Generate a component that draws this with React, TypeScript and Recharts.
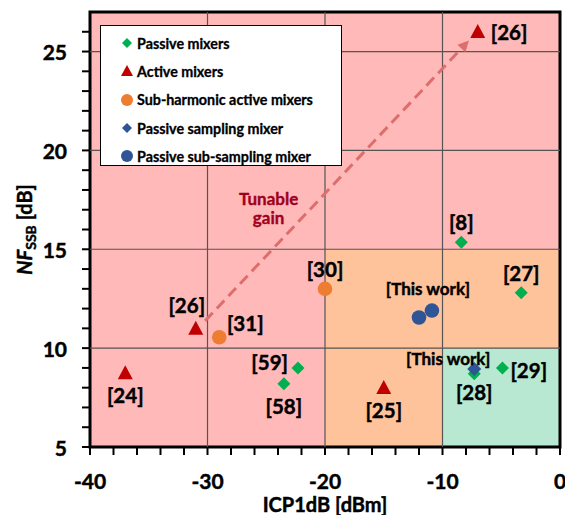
import React from "react";
import {
  ScatterChart,
  Scatter,
  XAxis,
  YAxis,
  ReferenceArea,
  ReferenceLine,
  ReferenceDot,
  Legend,
  Label,
} from "recharts";

// ---- data ----
const passiveMixers = [
  { x: -8.4, y: 15.35, label: "[8]", pos: "top" },
  { x: -3.3, y: 12.8, label: "[27]", pos: "top" },
  { x: -4.9, y: 9.0, label: "[29]", pos: "rightNear" },
  { x: -7.3, y: 8.7, label: "[28]", pos: "below" },
  { x: -22.3, y: 9.0, label: "[59]", pos: "left" },
  { x: -23.5, y: 8.2, label: "[58]", pos: "bottom" },
];

const activeMixers = [
  { x: -7, y: 26, label: "[26]", pos: "right" },
  { x: -31, y: 11, label: "[26]", pos: "upLeft" },
  { x: -37, y: 8.75, label: "[24]", pos: "bottom" },
  { x: -15, y: 8, label: "[25]", pos: "bottom" },
];

const subHarmonicMixers = [
  { x: -20, y: 13, label: "[30]", pos: "top" },
  { x: -29, y: 10.55, label: "[31]", pos: "upRight" },
];

const passiveSampling = [{ x: -7.3, y: 8.95, label: "[This work]", pos: "workLeft" }];

const passiveSubSampling = [
  { x: -12, y: 11.55, label: "", pos: "top" },
  { x: -10.9, y: 11.9, label: "[This work]", pos: "workTop" },
];

const xTicks = [-40, -38, -36, -34, -32, -30, -28, -26, -24, -22, -20, -18, -16, -14, -12, -10, -8, -6, -4, -2, 0];
const yTicks = [5, 6, 7, 8, 9, 10, 11, 12, 13, 14, 15, 16, 17, 18, 19, 20, 21, 22, 23, 24, 25, 26];
const xGrid = [-30, -20, -10];
const yGrid = [10, 15, 20, 25];
const gainArrow = [
  { x: -30.2, y: 11.38 },
  { x: -7.75, y: 25.56 },
];
const gainText = { x: -24.8, y: 17.05, lines: ["Tunable", "gain"] };

// ---- styles ----
const FONT = "Lato, 'Liberation Sans', sans-serif";
const GREEN = "#00B050";
const RED = "#C00000";
const ORANGE = "#ED7D31";
const BLUE = "#2F5597";
// a hairline stroke to get closer to the heavy bold of the original
const HEAVY = { stroke: "#000", strokeWidth: 0.45 };

const LABEL_OFFSETS: Record<string, { dx: number; dy: number; anchor: "start" | "middle" | "end" }> = {
  top: { dx: 0, dy: -20, anchor: "middle" },
  bottom: { dx: 0, dy: 22, anchor: "middle" },
  below: { dx: 0, dy: 18, anchor: "middle" },
  right: { dx: 13, dy: 0, anchor: "start" },
  rightNear: { dx: 8, dy: 2, anchor: "start" },
  left: { dx: -10, dy: -6, anchor: "end" },
  upLeft: { dx: -9, dy: -23, anchor: "middle" },
  upRight: { dx: 26, dy: -14, anchor: "middle" },
  workTop: { dx: -4, dy: -22, anchor: "middle" },
  workLeft: { dx: -26, dy: -10, anchor: "middle" },
};

function PointLabel({ cx, cy, payload }: any) {
  if (!payload || !payload.label) return null;
  const o = LABEL_OFFSETS[payload.pos] || LABEL_OFFSETS.top;
  const small = payload.label.startsWith("[This");
  return (
    <text
      x={cx + o.dx}
      y={cy + o.dy}
      textAnchor={o.anchor}
      dominantBaseline="central"
      fontFamily={FONT}
      fontWeight="bold"
      fontSize={small ? 17 : 20.5}
      fill="#000"
      {...HEAVY}
    >
      {payload.label}
    </text>
  );
}

const diamond = (cx: number, cy: number, r: number) =>
  `${cx},${cy - r} ${cx + r},${cy} ${cx},${cy + r} ${cx - r},${cy}`;
const triangle = (cx: number, cy: number, w: number, h: number) =>
  `${cx},${cy - h * 0.55} ${cx + w / 2},${cy + h * 0.45} ${cx - w / 2},${cy + h * 0.45}`;

const makeShape = (kind: string, color: string) => (props: any) => {
  const { cx, cy } = props;
  let mark;
  if (kind === "diamond") mark = <polygon points={diamond(cx, cy, 6.5)} fill={color} />;
  else if (kind === "bigDiamond") mark = <polygon points={diamond(cx, cy, 7)} fill={color} />;
  else if (kind === "triangle") mark = <polygon points={triangle(cx, cy, 15, 14)} fill={color} />;
  else mark = <circle cx={cx} cy={cy} r={7.3} fill={color} />;
  return (
    <g>
      {mark}
      <PointLabel {...props} />
    </g>
  );
};

const legendItems = [
  { name: "Passive mixers", kind: "diamond", color: GREEN },
  { name: "Active mixers", kind: "triangle", color: RED },
  { name: "Sub-harmonic active mixers", kind: "circle", color: ORANGE },
  { name: "Passive sampling mixer", kind: "diamond", color: BLUE },
  { name: "Passive sub-sampling mixer", kind: "circle", color: BLUE },
];

function LegendBox() {
  return (
    <div
      style={{
        boxSizing: "border-box",
        width: 242,
        height: 141,
        background: "#fff",
        border: "1px solid #000",
        paddingTop: 3,
      }}
    >
      {legendItems.map((it) => (
        <div key={it.name} style={{ display: "flex", alignItems: "center", height: 28.3 }}>
          <svg width={36} height={20} style={{ flex: "none" }}>
            {it.kind === "diamond" && <polygon points={diamond(26, 10, 5)} fill={it.color} />}
            {it.kind === "triangle" && <polygon points={triangle(26, 10, 12, 11)} fill={it.color} />}
            {it.kind === "circle" && <circle cx={26} cy={10} r={6} fill={it.color} />}
          </svg>
          <span
            style={{
              fontFamily: FONT,
              fontWeight: "bold",
              fontSize: 14.3,
              color: "#000",
              whiteSpace: "nowrap",
              WebkitTextStroke: "0.3px #000",
            }}
          >
            {it.name}
          </span>
        </div>
      ))}
    </div>
  );
}

function XTick({ x, y, payload }: any) {
  const v = payload.value;
  const major = v % 10 === 0;
  return (
    <g>
      <line x1={x} x2={x} y1={y} y2={y + 8} stroke="#000" strokeWidth={2} />
      {major && (
        <text x={x} y={y + 33} textAnchor="middle" dominantBaseline="central" fontFamily={FONT} fontWeight="bold" fontSize={21} fill="#000" {...HEAVY}>
          {v}
        </text>
      )}
    </g>
  );
}

function YTick({ x, y, payload }: any) {
  const v = payload.value;
  const major = v % 5 === 0;
  return (
    <g>
      <line x1={x} x2={x - 8} y1={y} y2={y} stroke="#000" strokeWidth={2} />
      {major && (
        <text x={x - 23} y={y} textAnchor="end" dominantBaseline="central" fontFamily={FONT} fontWeight="bold" fontSize={21} fill="#000" {...HEAVY}>
          {v}
        </text>
      )}
    </g>
  );
}

function XTitle({ viewBox }: any) {
  const { x, y, width } = viewBox;
  return (
    <text x={x + width / 2} y={y + 57} textAnchor="middle" dominantBaseline="central" fontFamily={FONT} fontWeight="bold" fontSize={20} fill="#000" {...HEAVY}>
      ICP1dB [dBm]
    </text>
  );
}

function YTitle({ viewBox }: any) {
  const { y, height } = viewBox;
  const cx = 32;
  const cy = y + height / 2;
  return (
    <text transform={`translate(${cx},${cy}) rotate(-90)`} textAnchor="middle" fontFamily={FONT} fontWeight="bold" fontSize={20} fill="#000" {...HEAVY}>
      <tspan fontStyle="italic">NF</tspan>
      <tspan fontSize={14} dy={4}>SSB</tspan>
      <tspan dy={-4}> [dB]</tspan>
    </text>
  );
}

function GainArrow({ x1, y1, x2, y2 }: any) {
  const ang = Math.atan2(y2 - y1, x2 - x1);
  const len = 11;
  const half = 5.5;
  const bx = x2 - len * Math.cos(ang);
  const by = y2 - len * Math.sin(ang);
  const px = -Math.sin(ang) * half;
  const py = Math.cos(ang) * half;
  const color = "#DE6E6E";
  return (
    <g>
      <line x1={x1} y1={y1} x2={bx} y2={by} stroke={color} strokeWidth={3} strokeDasharray="11 6" />
      <polygon points={`${x2},${y2} ${bx + px},${by + py} ${bx - px},${by - py}`} fill={color} />
    </g>
  );
}

function GainText({ cx, cy }: any) {
  return (
    <text x={cx} textAnchor="middle" fontFamily={FONT} fontWeight="bold" fontSize={17} fill="#A0001E" stroke="#A0001E" strokeWidth={0.35}>
      <tspan x={cx} y={cy - 4}>{gainText.lines[0]}</tspan>
      <tspan x={cx} y={cy + 15}>{gainText.lines[1]}</tspan>
    </text>
  );
}

export default function App() {
  return (
    <div style={{ position: "absolute", left: 0, top: 0, width: 565, height: 515, background: "#fff" }}>
      <ScatterChart width={565} height={515} margin={{ top: 12, right: 5, bottom: 0, left: 0 }}>
        <XAxis
          type="number"
          dataKey="x"
          domain={[-40, 0]}
          ticks={xTicks}
          interval={0}
          axisLine={false}
          tickLine={false}
          tickSize={0}
          tickMargin={0}
          tick={<XTick />}
          height={68}
          allowDataOverflow
        >
          <Label content={<XTitle />} />
        </XAxis>
        <YAxis
          type="number"
          dataKey="y"
          domain={[5, 27]}
          ticks={yTicks}
          interval={0}
          axisLine={false}
          tickLine={false}
          tickSize={0}
          tickMargin={0}
          tick={<YTick />}
          width={90}
          allowDataOverflow
        >
          <Label content={<YTitle />} />
        </YAxis>

        <ReferenceArea x1={-40} x2={0} y1={5} y2={27} fill="#FFB9B9" fillOpacity={1} stroke="none" />
        <ReferenceArea x1={-20} x2={0} y1={5} y2={15} fill="#FFC39B" fillOpacity={1} stroke="none" />
        <ReferenceArea x1={-10} x2={0} y1={5} y2={10} fill="#B8E8D1" fillOpacity={1} stroke="none" />

        {xGrid.map((v) => (
          <ReferenceLine key={`gx${v}`} x={v} stroke="#555" strokeWidth={1.2} />
        ))}
        {yGrid.map((v) => (
          <ReferenceLine key={`gy${v}`} y={v} stroke="#555" strokeWidth={1.2} />
        ))}

        <ReferenceArea x1={-40} x2={0} y1={5} y2={27} fill="none" stroke="#000" strokeWidth={3} />

        <ReferenceLine segment={gainArrow} shape={<GainArrow />} />
        <ReferenceDot x={gainText.x} y={gainText.y} r={0} shape={<GainText />} />

        <Scatter name="Passive mixers" data={passiveMixers} shape={makeShape("diamond", GREEN)} isAnimationActive={false} />
        <Scatter name="Active mixers" data={activeMixers} shape={makeShape("triangle", RED)} isAnimationActive={false} />
        <Scatter name="Sub-harmonic active mixers" data={subHarmonicMixers} shape={makeShape("circle", ORANGE)} isAnimationActive={false} />
        <Scatter name="Passive sampling mixer" data={passiveSampling} shape={makeShape("bigDiamond", BLUE)} isAnimationActive={false} />
        <Scatter name="Passive sub-sampling mixer" data={passiveSubSampling} shape={makeShape("circle", BLUE)} isAnimationActive={false} />

        <Legend
          layout="vertical"
          align="center"
          verticalAlign="middle"
          content={<LegendBox />}
          wrapperStyle={{ left: 100, top: 25, width: 242, height: 141 }}
        />
      </ScatterChart>
    </div>
  );
}
